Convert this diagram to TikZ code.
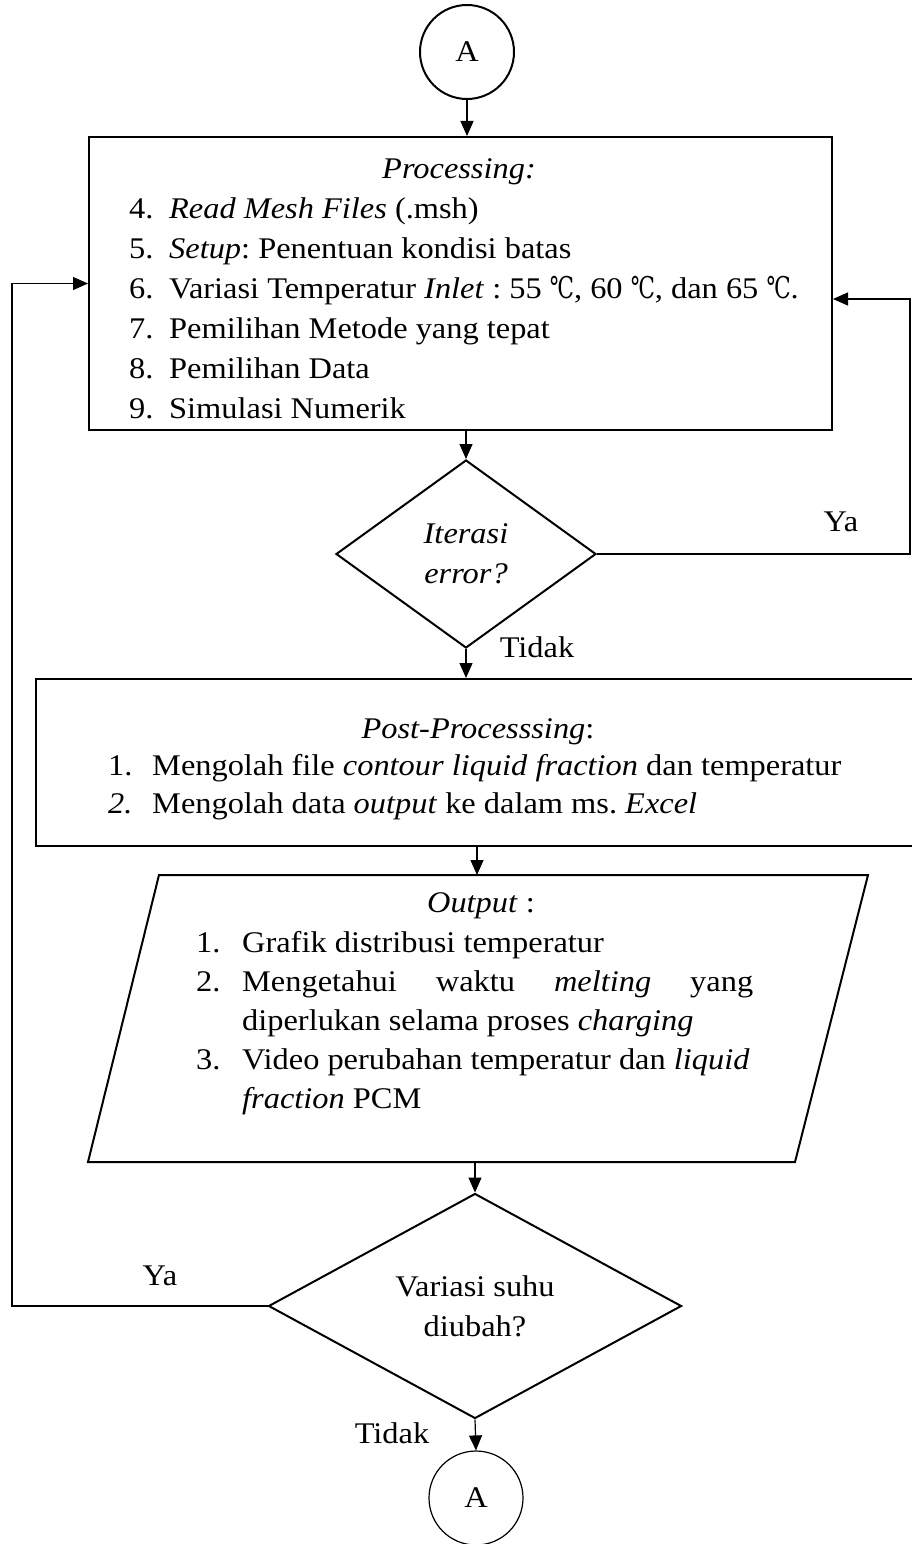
\documentclass[tikz,border=0pt]{standalone}
\usepackage{fontspec}
\setmainfont[FakeStretch=1.08]{Liberation Serif}
\newfontfamily\degfont[FakeStretch=0.72]{DejaVu Serif}
\usetikzlibrary{shapes.geometric,arrows.meta}
\newcommand{\itemno}[3][40pt]{\makebox[#1][l]{#2}#3}
\newcommand{\degC}{{\degfont ℃}}
\frenchspacing

\begin{document}
\begin{tikzpicture}[x=1pt,y=-1pt,
    every node/.style={font=\fontsize{30}{40}\selectfont,inner sep=0pt},
    box/.style={draw,line width=2pt},
    conn/.style={line width=1.2pt},
    arr/.style={line width=1.2pt,-{Triangle[length=15pt,width=13pt]}},
    list/.style={anchor=north west,align=left}]
    \useasboundingbox (0,0) rectangle (911,1544);

    \node[box,circle,minimum size=94pt] (startA) at (467,52) {A};

    % processing
    \node[box,minimum width=743pt,minimum height=293pt] (proc) at (460.5,283.5) {};
    \node[anchor=base] (prochead) at (459,178) {\textit{Processing:}};
    \node[list] (proclist) at (129,197) {\itemno{4.}{\textit{Read Mesh Files} (.msh)}\\
        \itemno{5.}{\textit{Setup}: Penentuan kondisi batas}\\
        \itemno{6.}{Variasi Temperatur \textit{Inlet} : 55 \degC, 60 \degC, dan 65 \degC.}\\
        \itemno{7.}{Pemilihan Metode yang tepat}\\
        \itemno{8.}{Pemilihan Data}\\
        \itemno{9.}{Simulasi Numerik}};

    \node[box,diamond,aspect=1.38,minimum width=260pt,minimum height=188pt,align=center] (iter) at (466,554) {\textit{Iterasi}\\\textit{error?}};
    \node (yaiter) at (841,522) {Ya};
    \node (tidakiter) at (537,647) {Tidak};

    % post-processing
    \node[box,minimum width=890pt,minimum height=167pt] (post) at (481,762.5) {};
    \node[anchor=base] (posthead) at (478,738) {\textit{Post-Processsing}:};
    \node[list,font=\fontsize{30}{38}\selectfont] (postlist) at (108,754) {\itemno[44pt]{1.}{Mengolah file \textit{contour liquid fraction} dan temperatur}\\
        \itemno[44pt]{\textit{2.}}{Mengolah data \textit{output} ke dalam ms. \textit{Excel}}};

    % output
    \draw[box] (159,875) -- (868,875) -- (795,1162) -- (88,1162) -- cycle;
    \coordinate (outtop) at (477,875);
    \coordinate (outbot) at (475,1162);
    \node[anchor=base] (outhead) at (481,912) {\textit{Output} :};
    \node[list,font=\fontsize{30}{39}\selectfont] (outlist) at (196,931) {\itemno[46pt]{1.}{Grafik distribusi temperatur}\\
        \itemno[46pt]{2.}{\makebox[511pt][s]{Mengetahui\hfill waktu\hfill \textit{melting}\hfill yang}}\\
        \itemno[46pt]{}{diperlukan selama proses \textit{charging}}\\
        \itemno[46pt]{3.}{Video perubahan temperatur dan \textit{liquid}}\\
        \itemno[46pt]{}{\textit{fraction} PCM}};

    \node[box,diamond,aspect=1.84,minimum width=413pt,minimum height=225pt,align=center] (suhu) at (475,1306) {Variasi suhu\\diubah?};
    \node (yasuhu) at (160,1276) {Ya};
    \node (tidaksuhu) at (392,1433) {Tidak};

    \node[draw,line width=1.2pt,circle,minimum size=94pt] (endA) at (476,1498) {A};

    \coordinate (rloop) at (910,554);
    \coordinate (lloop) at (12,1306);

    \draw[arr] (startA.south) -- (startA.south |- proc.north);
    \draw[arr] (iter.north |- proc.south) -- (iter.north);
    \draw[arr] (iter.south) -- (iter.south |- post.north);
    \draw[arr] (outtop |- post.south) -- (outtop);
    \draw[arr] (outbot) -- (suhu.north);
    \draw[arr] (suhu.south) -- (endA.north);
    \draw[arr] (iter.east) -- (rloop) |- ([yshift=-15.5pt]proc.east);
    \draw[arr] (suhu.west) -- (lloop) |- (proc.west);
\end{tikzpicture}
\end{document}
